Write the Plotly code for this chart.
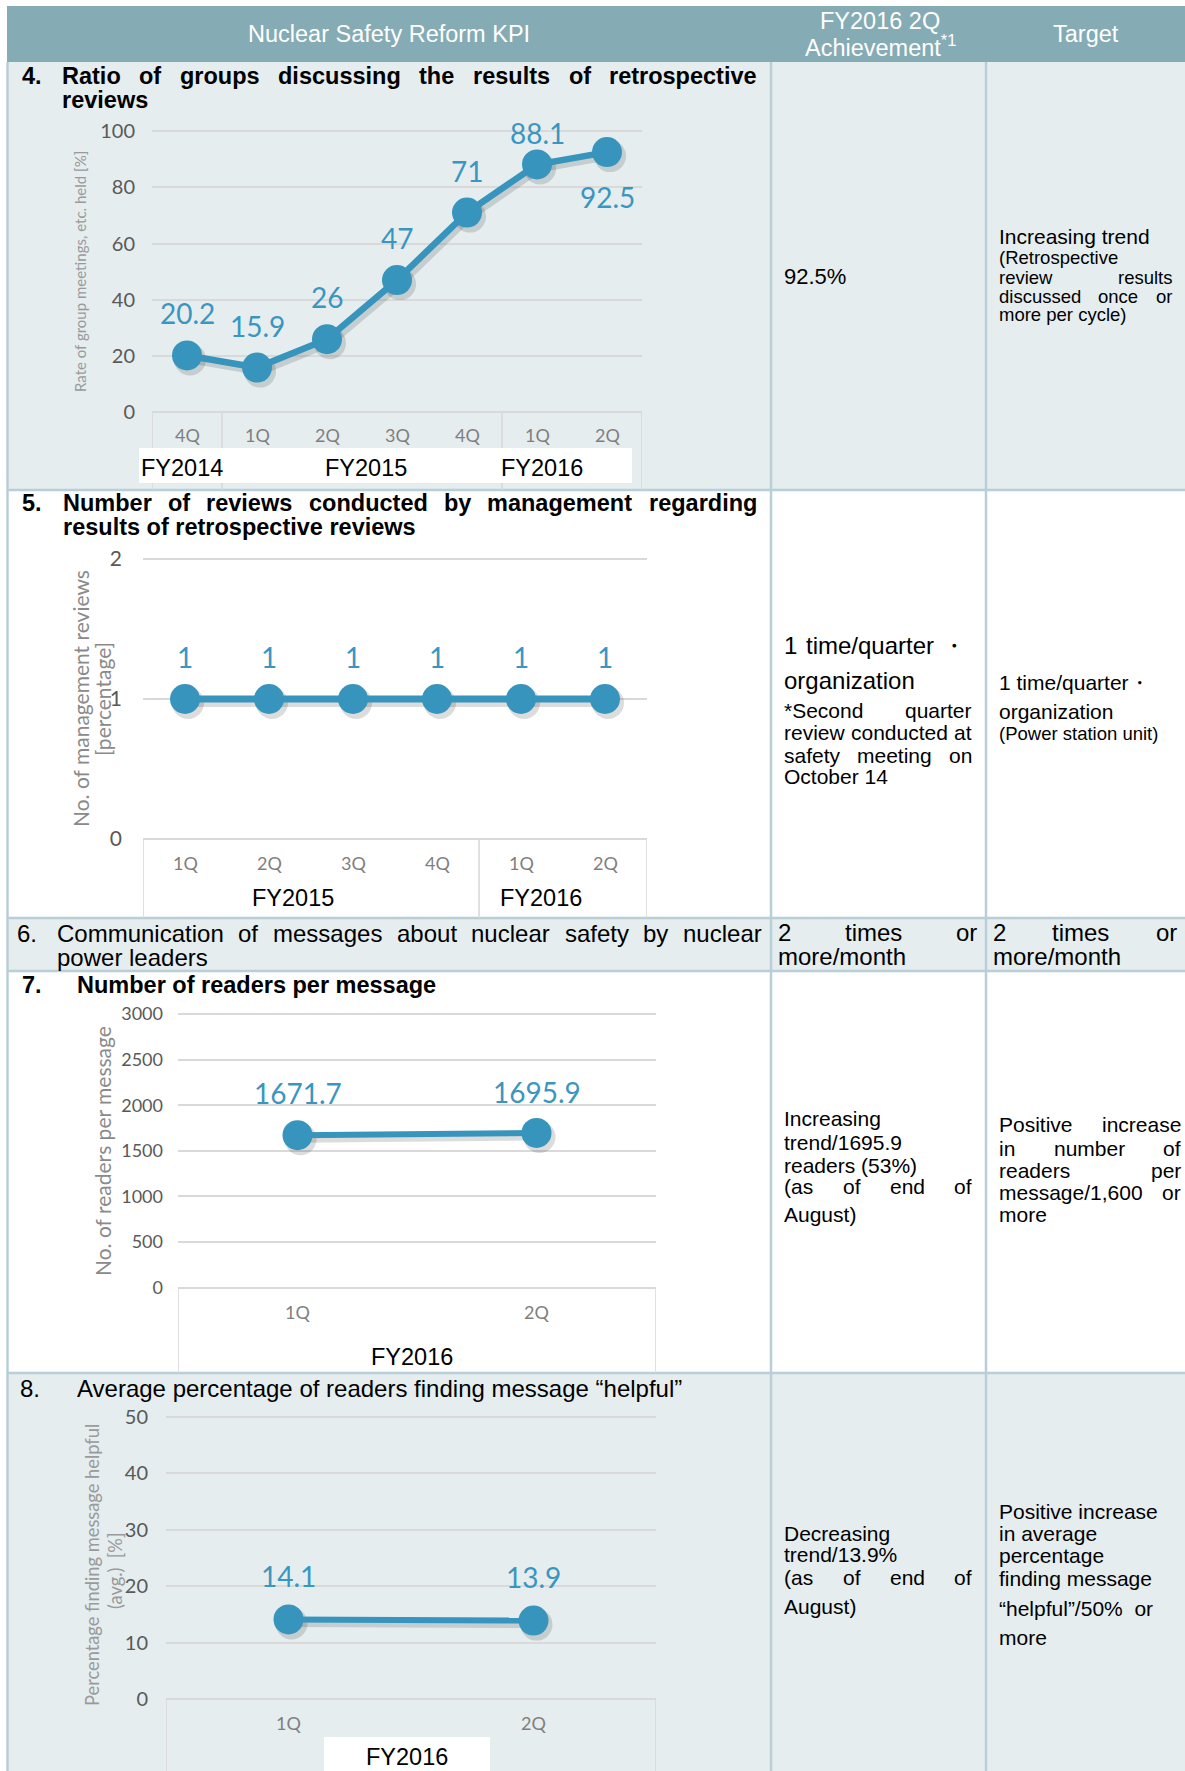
import plotly.graph_objects as go

W, H = 1185, 1771

# ---------------- data ----------------
kpi4_quarters = ["4Q", "1Q", "2Q", "3Q", "4Q", "1Q", "2Q"]
kpi4_years = ["FY2014", "FY2015", "FY2016"]
kpi4_ratio = [20.2, 15.9, 26, 47, 71, 88.1, 92.5]
kpi4_yticks = [0, 20, 40, 60, 80, 100]

kpi5_quarters = ["1Q", "2Q", "3Q", "4Q", "1Q", "2Q"]
kpi5_years = ["FY2015", "FY2016"]
kpi5_reviews = [1, 1, 1, 1, 1, 1]
kpi5_yticks = [0, 1, 2]

kpi7_quarters = ["1Q", "2Q"]
kpi7_years = ["FY2016"]
kpi7_readers = [1671.7, 1695.9]
kpi7_yticks = [0, 500, 1000, 1500, 2000, 2500, 3000]

kpi8_quarters = ["1Q", "2Q"]
kpi8_years = ["FY2016"]
kpi8_helpful = [14.1, 13.9]
kpi8_yticks = [0, 10, 20, 30, 40, 50]

# ---------------- styles ----------------
BODY = "Liberation Sans, Arial, sans-serif"
CHART = "Lato, Roboto, sans-serif"
HEAD_BG = "#85abb5"
ROW_BG = "#e5edef"
BORDER = "#b9cfd7"
BLUE = "#3794bd"
LABEL_BLUE = "#3a96c0"
GRID = "#d9d9d9"

# Arial / Liberation Sans advance widths (per 1000 em) for justified lines
_REG = dict(zip("abcdefghijklmnopqrstuvwxyz",
                [556, 556, 500, 556, 556, 278, 556, 556, 222, 222, 500, 222, 833,
                 556, 556, 556, 556, 333, 500, 278, 556, 500, 722, 500, 500, 500]))
_REG.update(dict(zip("ABCDEFGHIJKLMNOPQRSTUVWXYZ",
                     [667, 667, 722, 722, 667, 611, 778, 722, 278, 500, 667, 556, 833,
                      722, 778, 667, 778, 722, 667, 611, 722, 667, 944, 667, 667, 611])))
_BOLD = dict(zip("abcdefghijklmnopqrstuvwxyz",
                 [556, 611, 556, 611, 556, 333, 611, 611, 278, 278, 556, 278, 889,
                  611, 611, 611, 611, 389, 556, 333, 611, 556, 778, 556, 556, 500]))
_BOLD.update(dict(zip("ABCDEFGHIJKLMNOPQRSTUVWXYZ",
                      [722, 722, 722, 722, 667, 611, 778, 722, 278, 556, 722, 611, 833,
                       722, 778, 667, 778, 722, 667, 611, 722, 667, 944, 667, 667, 611])))
for tbl in (_REG, _BOLD):
    tbl.update({" ": 278, ".": 278, ",": 278, "/": 278, "(": 333, ")": 333,
                "*": 389, "%": 889, "\u30fb": 1000})
    for d in "0123456789":
        tbl[d] = 556


def text_width(s, size, bold=False):
    tbl = _BOLD if bold else _REG
    return sum(tbl.get(ch, 556) for ch in s) / 1000.0 * size


annotations = []
shapes = []


def px(x):
    return x / W


def py(y):
    return 1 - y / H


def txt(s, x, y, size, color="#000000", anchor="left", family=BODY, angle=0, bold=False):
    annotations.append(dict(
        text=f"<b>{s}</b>" if bold else s, x=px(x), y=py(y), xref="paper", yref="paper",
        xanchor=anchor, yanchor="middle", showarrow=False, textangle=angle,
        borderpad=0, borderwidth=0,
        font=dict(size=size, color=color, family=family)))


def justify(line, x0, x1, y, size, bold=False):
    words = line.split()
    widths = [text_width(w, size, bold) for w in words]
    gap = (x1 - x0 - sum(widths)) / (len(words) - 1)
    x = x0
    for w, wd in zip(words, widths):
        txt(w, x, y, size, bold=bold)
        x += wd + gap


def rect(x0, y0, x1, y1, fill):
    shapes.append(dict(type="rect", xref="paper", yref="paper", x0=px(x0), x1=px(x1),
                       y0=py(y1), y1=py(y0), fillcolor=fill, line=dict(width=0),
                       layer="below"))


def hline(y, x0, x1, color=BORDER, width=2.5):
    shapes.append(dict(type="line", xref="paper", yref="paper", x0=px(x0), x1=px(x1),
                       y0=py(y), y1=py(y), line=dict(color=color, width=width)))


def vline(x, y0, y1, color=BORDER, width=2.5):
    shapes.append(dict(type="line", xref="paper", yref="paper", x0=px(x), x1=px(x),
                       y0=py(y0), y1=py(y1), line=dict(color=color, width=width)))


# ---------------- table frame ----------------
rect(7, 6, W, 62, HEAD_BG)
rect(7, 62, W, 490, ROW_BG)
rect(7, 918, W, 971, ROW_BG)
rect(7, 1373, W, H, ROW_BG)

for yb in (490, 918, 971, 1373):
    hline(yb, 7, W)
vline(7.5, 62, H)
vline(771, 62, H)
vline(986, 62, H)

# header
txt("Nuclear Safety Reform KPI", 389, 34, 23.5, "#ffffff", "center")
txt("FY2016 2Q", 880, 21.5, 23.5, "#ffffff", "center")
txt("Achievement<sup>*1</sup>", 880, 46, 23.5, "#ffffff", "center")
txt("Target", 1086, 34, 23.5, "#ffffff", "center")

# row 4
txt("4.", 22, 76, 23.5, bold=True)
justify("Ratio of groups discussing the results of retrospective", 62, 757, 76, 23.5, bold=True)
txt("reviews", 62, 100, 23.5, bold=True)
txt("92.5%", 784, 276, 22)
txt("Increasing trend", 999, 236, 21)
txt("(Retrospective", 999, 257.5, 18.5)
justify("review results", 999, 1172, 277, 18.5)
justify("discussed once or", 999, 1172, 296, 18.5)
txt("more per cycle)", 999, 315, 18.5)

# row 5
txt("5.", 22, 503, 23.5, bold=True)
justify("Number of reviews conducted by management regarding", 63, 757, 503, 23.5, bold=True)
txt("results of retrospective reviews", 63, 527.5, 23.5, bold=True)
justify("1 time/quarter \u30fb", 784, 966, 645, 24)
txt("organization", 784, 680, 24)
justify("*Second quarter", 784, 972, 710.5, 21)
justify("review conducted at", 784, 972, 732, 21)
justify("safety meeting on", 784, 972, 755, 21)
txt("October 14", 784, 776, 21)
txt("1 time/quarter\u30fb", 999, 682, 21)
txt("organization", 999, 712, 21)
txt("(Power station unit)", 999, 733, 18.5)

# row 6
txt("6.", 17, 933, 24)
justify("Communication of messages about nuclear safety by nuclear", 57, 762, 933, 24)
txt("power leaders", 57, 957, 24)
justify("2 times or", 778, 977, 932, 24)
txt("more/month", 778, 956, 24)
justify("2 times or", 993, 1177, 932, 24)
txt("more/month", 993, 956, 24)

# row 7
txt("7.", 22, 985, 23.5, bold=True)
txt("Number of readers per message", 77, 985, 23.5, bold=True)
txt("Increasing", 784, 1118, 21)
txt("trend/1695.9", 784, 1142, 21)
txt("readers (53%)", 784, 1165, 21)
justify("(as of end of", 784, 972, 1186, 21)
txt("August)", 784, 1214, 21)
justify("Positive increase", 999, 1181, 1124, 21)
justify("in number of", 999, 1181, 1148, 21)
justify("readers per", 999, 1181, 1170, 21)
justify("message/1,600 or", 999, 1181, 1192, 21)
txt("more", 999, 1214, 21)

# row 8
txt("8.", 20, 1388, 24)
txt("Average percentage of readers finding message \u201chelpful\u201d", 77, 1388, 24)
txt("Decreasing", 784, 1533, 21)
txt("trend/13.9%", 784, 1554, 21)
justify("(as of end of", 784, 972, 1577, 21)
txt("August)", 784, 1606, 21)
txt("Positive increase", 999, 1511.5, 21)
txt("in average", 999, 1533, 21)
txt("percentage", 999, 1555.5, 21)
txt("finding message", 999, 1578, 21)
txt("\u201chelpful\u201d/50%\u00a0 or", 999, 1608, 21)
txt("more", 999, 1637, 21)

# ---------------- charts ----------------
charts = [
    dict(q=kpi4_quarters, v=kpi4_ratio, yt=kpi4_yticks, years=kpi4_years,
         left=152, right=642, zero=412.3, top=131, bottom=490, tickfont=20, standoff=16,
         lw=6.5, shifts=[42, 42, 42, 42, 42, 31, -45], qy=435, dividers=[0.5, 4.5],
         year_x=[182, 366, 542], year_y=468, year_box=(139, 448, 632, 483)),
    dict(q=kpi5_quarters, v=kpi5_reviews, yt=kpi5_yticks, years=kpi5_years,
         left=143, right=647, zero=839, top=559, bottom=918, tickfont=21, standoff=20,
         lw=7, shifts=[42] * 6, qy=863, dividers=[3.5],
         year_x=[293, 541], year_y=898, year_box=None),
    dict(q=kpi7_quarters, v=kpi7_readers, yt=kpi7_yticks, years=kpi7_years,
         left=178, right=656, zero=1287.7, top=1014, bottom=1373, tickfont=18, standoff=14,
         lw=6, shifts=[42, 41], qy=1312, dividers=[],
         year_x=[412], year_y=1357, year_box=None),
    dict(q=kpi8_quarters, v=kpi8_helpful, yt=kpi8_yticks, years=kpi8_years,
         left=166, right=656, zero=1699, top=1417, bottom=H, tickfont=20, standoff=17,
         lw=6, shifts=[43, 44], qy=1723, dividers=[],
         year_x=[407], year_y=1757, year_box=(324, 1737, 490, H)),
]

fig = go.Figure()
layout_axes = {}
PAD = 2  # px of breathing room so edge gridlines are kept

for k, c in enumerate(charts, start=1):
    xa = "x" if k == 1 else f"x{k}"
    ya = "y" if k == 1 else f"y{k}"
    n = len(c["q"])
    idx = list(range(n))
    vmax = c["yt"][-1]
    upp = vmax / (c["zero"] - c["top"])          # value units per pixel
    xpp = n / (c["right"] - c["left"])            # category units per pixel

    # soft drop shadow under the series
    fig.add_trace(go.Scatter(
        x=[i + 3 * xpp for i in idx], y=[v - 4 * upp for v in c["v"]],
        mode="lines+markers", xaxis=xa, yaxis=ya, hoverinfo="skip", showlegend=False,
        line=dict(color="rgba(40,40,40,0.16)", width=c["lw"] + 1),
        marker=dict(size=32, color="rgba(40,40,40,0.16)")))
    fig.add_trace(go.Scatter(
        x=idx, y=c["v"], mode="lines+markers", xaxis=xa, yaxis=ya, showlegend=False,
        line=dict(color=BLUE, width=c["lw"]),
        marker=dict(size=30, color=BLUE, line=dict(width=0))))

    layout_axes["xaxis" if k == 1 else f"xaxis{k}"] = dict(
        domain=[px(c["left"]), px(c["right"])], range=[-0.5, n - 0.5],
        showticklabels=False, showgrid=False, zeroline=False, showline=False,
        anchor=ya, fixedrange=True, automargin=False)
    layout_axes["yaxis" if k == 1 else f"yaxis{k}"] = dict(
        domain=[py(c["zero"] + PAD), py(c["top"] - PAD)],
        range=[-PAD * upp, vmax + PAD * upp], tickvals=c["yt"],
        showgrid=True, gridcolor=GRID, gridwidth=1.6, zeroline=False, showline=False,
        ticks="", ticklabelstandoff=c["standoff"],
        tickfont=dict(family=CHART, size=c["tickfont"], color="#595959"),
        anchor=xa, fixedrange=True, automargin=False)

    # value labels
    for i, (v, s) in enumerate(zip(c["v"], c["shifts"])):
        annotations.append(dict(
            text=f"{v:g}", x=i, y=v, xref=xa, yref=ya, showarrow=False,
            xanchor="center", yanchor="middle", yshift=s,
            font=dict(family=CHART, size=28, color=LABEL_BLUE)))

    # category axis frame
    for xv in [-0.5] + c["dividers"] + [n - 0.5]:
        shapes.append(dict(type="line", xref=xa, yref="paper", x0=xv, x1=xv,
                           y0=py(c["bottom"]), y1=py(c["zero"]),
                           line=dict(color=GRID, width=1.6)))
    if c["year_box"]:
        bx0, by0, bx1, by1 = c["year_box"]
        shapes.append(dict(type="rect", xref="paper", yref="paper", x0=px(bx0), x1=px(bx1),
                           y0=py(by1), y1=py(by0), fillcolor="#ffffff",
                           line=dict(width=0)))
    for i, q in enumerate(c["q"]):
        annotations.append(dict(
            text=q, x=i, y=py(c["qy"]), xref=xa, yref="paper", showarrow=False,
            xanchor="center", yanchor="middle",
            font=dict(family=CHART, size=18, color="#7f7f7f")))
    for yr, yx in zip(c["years"], c["year_x"]):
        txt(yr, yx, c["year_y"], 23.5, "#000000", "center")

# axis titles
txt("Rate of group meetings, etc. held [%]", 80, 272, 15, "#9a9a9a", "center",
    CHART, -90)
txt("No. of management reviews", 80, 699, 21, "#8a8a8a", "center", CHART, -90)
txt("[percentage]", 102, 699, 21, "#8a8a8a", "center", CHART, -90)
txt("No. of readers per message", 102, 1151, 21, "#8a8a8a", "center", CHART, -90)
txt("Percentage finding message helpful", 92, 1565, 18.3, "#9a9a9a", "center", CHART, -90)
txt("(avg.)\u00a0\u00a0[%]", 115, 1571, 18.3, "#9a9a9a", "center", CHART, -90)

fig.update_layout(
    width=W, height=H, margin=dict(l=0, r=0, t=0, b=0, pad=0, autoexpand=False),
    paper_bgcolor="#ffffff", plot_bgcolor="rgba(0,0,0,0)",
    showlegend=False, shapes=shapes, annotations=annotations, **layout_axes)

# page body without the default browser margin so the figure fills the window
fig.write_html("out.html",
               post_script="document.body.style.margin='0';"
                           "document.body.style.overflow='hidden';")
